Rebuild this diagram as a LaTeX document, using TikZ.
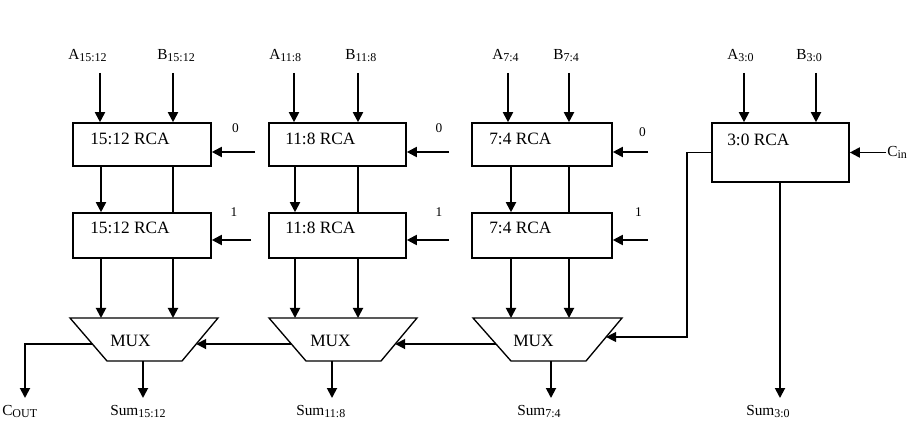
\documentclass[tikz,border=0pt]{standalone}
\usepackage{fontspec}
\setmainfont{Liberation Serif}
\usetikzlibrary{arrows.meta,calc}
\newcommand{\sbs}[1]{\raisebox{-1.5pt}{\fontsize{9}{10}\selectfont #1}}
\begin{document}
\begin{tikzpicture}[x=0.75pt,y=-0.75pt,
  box/.style={draw, line width=1.2pt, inner sep=0pt},
  rcatxt/.style={font=\fontsize{13}{15}\selectfont, inner sep=0pt, anchor=base west},
  lbl/.style={font=\fontsize{11.5}{13}\selectfont, inner sep=0pt, anchor=base west},
  bit/.style={font=\fontsize{10}{12}\selectfont, inner sep=0pt, anchor=base},
  arr/.style={line width=1.4pt, -{Triangle[length=7.5pt,width=7.5pt]}},
  thinln/.style={line width=0.8pt},
  thinarr/.style={line width=0.9pt, -{Triangle[length=7.5pt,width=7.5pt]}},
  muxln/.style={line width=1pt}]
\useasboundingbox (0,0) rectangle (909,434);

% ---------- RCA boxes ----------
\node[box, minimum width=103.5pt, minimum height=32.25pt] (t1) at (142,144.5) {};
\node[box, minimum width=103.5pt, minimum height=33.75pt] (b1) at (142,235.5) {};
\node[box, minimum width=102.75pt, minimum height=32.25pt] (t2) at (337.5,144.5) {};
\node[box, minimum width=102.75pt, minimum height=33.75pt] (b2) at (337.5,235.5) {};
\node[box, minimum width=105pt, minimum height=32.25pt] (t3) at (542,144.5) {};
\node[box, minimum width=105pt, minimum height=33.75pt] (b3) at (542,235.5) {};
\node[box, minimum width=102.75pt, minimum height=44.25pt] (t4) at (780.5,152.5) {};

\node[rcatxt] (t1l) at (90,145) {15:12 RCA};
\node[rcatxt] (b1l) at (90,234) {15:12 RCA};
\node[rcatxt] (t2l) at (285,145) {11:8 RCA};
\node[rcatxt] (b2l) at (285,234) {11:8 RCA};
\node[rcatxt] (t3l) at (489,145) {7:4 RCA};
\node[rcatxt] (b3l) at (489,234) {7:4 RCA};
\node[rcatxt] (t4l) at (727,146) {3:0 RCA};

% ---------- MUX trapezoids ----------
\coordinate (m1tl) at (70,318);  \coordinate (m1tr) at (218,318);
\coordinate (m1br) at (182,361); \coordinate (m1bl) at (107,361);
\coordinate (m2tl) at (269,318); \coordinate (m2tr) at (417,318);
\coordinate (m2br) at (381,361); \coordinate (m2bl) at (306,361);
\coordinate (m3tl) at (473,318); \coordinate (m3tr) at (622,318);
\coordinate (m3br) at (586,361); \coordinate (m3bl) at (511,361);
\draw[muxln] (m1tl) -- (m1tr) -- (m1br) -- (m1bl) -- cycle;
\draw[muxln] (m2tl) -- (m2tr) -- (m2br) -- (m2bl) -- cycle;
\draw[muxln] (m3tl) -- (m3tr) -- (m3br) -- (m3bl) -- cycle;
\node[rcatxt] (m1x) at (110,346) {MUX};
\node[rcatxt] (m2x) at (310,346) {MUX};
\node[rcatxt] (m3x) at (513,346) {MUX};

\coordinate (m1r) at ($(m1tr)!0.605!(m1br)$);
\coordinate (m1l) at ($(m1tl)!0.605!(m1bl)$);
\coordinate (m2r) at ($(m2tr)!0.605!(m2br)$);
\coordinate (m2l) at ($(m2tl)!0.605!(m2bl)$);
\coordinate (m3r) at ($(m3tr)!0.442!(m3br)$);
\coordinate (m3l) at ($(m3tl)!0.605!(m3bl)$);

% ---------- input labels ----------
\node[lbl] (la1) at (68,60) {A\sbs{15:12}};
\node[lbl] (lb1) at (157,60) {B\sbs{15:12}};
\node[lbl] (la2) at (269,60) {A\sbs{11:8}};
\node[lbl] (lb2) at (345,60) {B\sbs{11:8}};
\node[lbl] (la3) at (492,60) {A\sbs{7:4}};
\node[lbl] (lb3) at (553,60) {B\sbs{7:4}};
\node[lbl] (la4) at (727,60) {A\sbs{3:0}};
\node[lbl] (lb4) at (796,60) {B\sbs{3:0}};

% ---------- input arrows ----------
\coordinate (a1) at (100,73); \coordinate (b1s) at (173,73);
\coordinate (a2) at (294,73); \coordinate (b2s) at (358,73);
\coordinate (a3) at (508,73); \coordinate (b3s) at (569,73);
\coordinate (a4) at (744,73); \coordinate (b4s) at (816,73);
\foreach \c/\n in {a1/t1,b1s/t1,a2/t2,b2s/t2,a3/t3,b3s/t3,a4/t4,b4s/t4}
  \draw[arr] (\c) -- (\c |- \n.north);

% ---------- columns between boxes and MUX ----------
\coordinate (c1l) at (101,0); \coordinate (c1r) at (173,0);
\coordinate (c2l) at (295,0); \coordinate (c2r) at (358,0);
\coordinate (c3l) at (511,0); \coordinate (c3r) at (569,0);
\foreach \i in {1,2,3}{
  \draw[arr] (t\i.south -| c\i l) -- (b\i.north -| c\i l);
  \draw[thinln] (t\i.south -| c\i r) -- (b\i.north -| c\i r);
  \draw[arr] (b\i.south -| c\i l) -- (m\i tl -| c\i l);
  \draw[arr] (b\i.south -| c\i r) -- (m\i tl -| c\i r);
}

% ---------- carry-in constants ----------
\coordinate (k1) at (255,152); \coordinate (k1b) at (251,240);
\coordinate (k2) at (449,152); \coordinate (k2b) at (449,240);
\coordinate (k3) at (648,152); \coordinate (k3b) at (648,240);
\draw[arr] (k1) -- (k1 -| t1.east);
\draw[arr] (k1b) -- (k1b -| b1.east);
\draw[arr] (k2) -- (k2 -| t2.east);
\draw[arr] (k2b) -- (k2b -| b2.east);
\draw[arr] (k3) -- (k3 -| t3.east);
\draw[arr] (k3b) -- (k3b -| b3.east);
\node[bit] (z1) at (235.5,133) {0};
\node[bit] (z2) at (439,133) {0};
\node[bit] (z3) at (642.5,137) {0};
\node[bit] (o1) at (234,217) {1};
\node[bit] (o2) at (439,217) {1};
\node[bit] (o3) at (638.5,217) {1};

% ---------- Cin ----------
\coordinate (cin) at (886,152.5);
\draw[arr] (cin) -- (t4.east);
\node[lbl] (cinl) at (887,156.5) {C\sbs{in}};

% ---------- select chain ----------
\coordinate (sel) at (687,0);
\draw[thinarr] (t4.west) -- (t4.west -| sel) -- (sel |- m3r) -- (m3r);
\draw[arr] (m3l) -- (m2r);
\draw[arr] (m2l) -- (m1r);
\coordinate (cout) at (25,398);
\draw[arr] (m1l) -| (cout);

% ---------- sum outputs ----------
\coordinate (s1) at (143,398);
\coordinate (s2) at (332,398);
\coordinate (s3) at (551,398);
\coordinate (s4) at (780,398);
\draw[arr] (s1 |- m1bl) -- (s1);
\draw[arr] (s2 |- m2bl) -- (s2);
\draw[arr] (s3 |- m3bl) -- (s3);
\draw[arr] (t4.south -| s4) -- (s4);

\node[lbl] (cl) at (2,415.5) {C\sbs{OUT}};
\node[lbl] (sl1) at (110,415.5) {Sum\sbs{15:12}};
\node[lbl] (sl2) at (296,415.5) {Sum\sbs{11:8}};
\node[lbl] (sl3) at (517,415.5) {Sum\sbs{7:4}};
\node[lbl] (sl4) at (746,415.5) {Sum\sbs{3:0}};
\end{tikzpicture}
\end{document}
